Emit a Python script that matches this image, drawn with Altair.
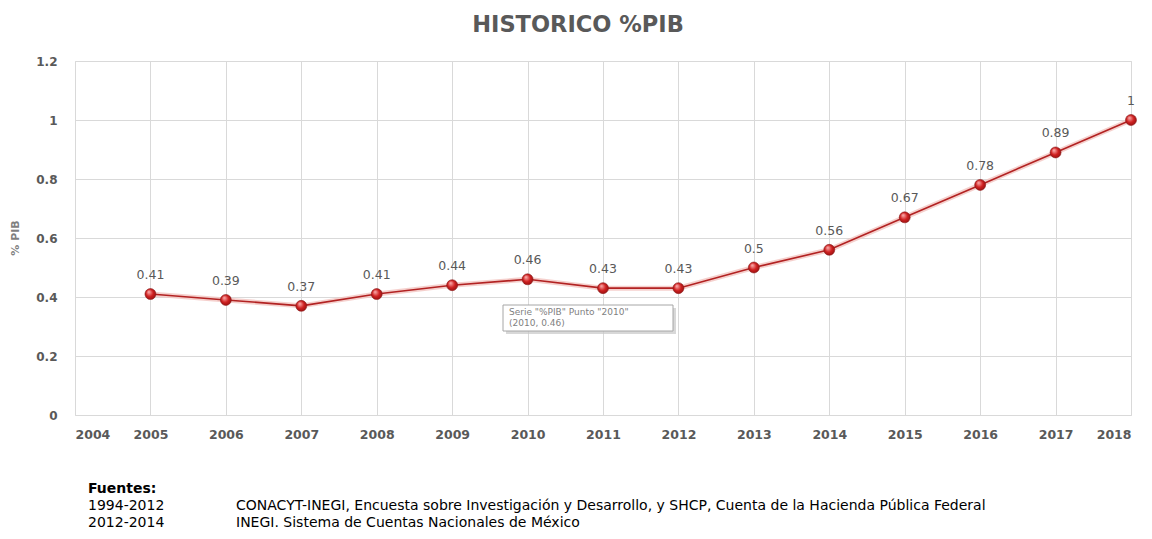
import altair as alt
import pandas as pd

years = [2005, 2006, 2007, 2008, 2009, 2010, 2011, 2012, 2013, 2014, 2015, 2016, 2017, 2018]
pib = [0.41, 0.39, 0.37, 0.41, 0.44, 0.46, 0.43, 0.43, 0.50, 0.56, 0.67, 0.78, 0.89, 1.00]
x_ticks = list(range(2004, 2019))
y_ticks = [0, 0.2, 0.4, 0.6, 0.8, 1.0, 1.2]

title_text = "HISTORICO %PIB"
y_title = "% PIB"
tooltip_lines = ['Serie "%PIB" Punto "2010"', "(2010, 0.46)"]
src_head = "Fuentes:"
src_periods = ["1994-2012", "2012-2014"]
src_texts = [
    "CONACYT-INEGI, Encuesta sobre Investigación y Desarrollo, y SHCP, Cuenta de la Hacienda Pública Federal",
    "INEGI. Sistema de Cuentas Nacionales de México",
]

df = pd.DataFrame({"year": years, "pib": pib})
one = pd.DataFrame({"a": [0]})

W, H = 1056, 354
GRID = "#d9d9d9"
TXT = "#595959"

xs = alt.X("year:Q", scale=alt.Scale(domain=[2004, 2018], nice=False, zero=False),
           axis=alt.Axis(values=x_ticks, format="d", title=None, ticks=False, domain=False,
                         grid=True, gridColor=GRID, labelFont="DejaVu Sans", labelFontSize=12.5,
                         labelFontWeight="bold", labelColor=TXT, labelPadding=13))
ys = alt.Y("pib:Q", scale=alt.Scale(domain=[0, 1.2], nice=False),
           axis=alt.Axis(values=y_ticks, format="~g", title=None, ticks=False, domain=False,
                         grid=True, gridColor=GRID, labelFont="DejaVu Sans", labelFontSize=12,
                         labelFontWeight="bold", labelColor=TXT, labelPadding=18))

base = alt.Chart(df)
glow = base.mark_line(color="#f2c4c0", strokeWidth=5, opacity=0.8).encode(x=xs, y=ys)
line = base.mark_line(color="#b22222", strokeWidth=1.6).encode(x=xs, y=ys)
pts = base.mark_point(
    filled=True, size=120, shape="circle", opacity=1,
    fill=alt.RadialGradient(gradient="radial", x1=0.35, y1=0.3, r1=0.05, x2=0.5, y2=0.5, r2=0.6,
                            stops=[alt.GradientStop(offset=0, color="#f7a3a3"),
                                   alt.GradientStop(offset=0.5, color="#d02020"),
                                   alt.GradientStop(offset=1, color="#8b0f0f")]),
    stroke="#8b1a1a", strokeWidth=0.6,
).encode(x=xs, y=ys)
labels = base.mark_text(font="DejaVu Sans", fontSize=12.5, color=TXT, dy=-15, baseline="alphabetic").encode(
    x=xs, y=ys, text=alt.Text("pib:Q", format="~g"))

ann = alt.Chart(one)
title = ann.mark_text(font="DejaVu Sans", fontSize=22.5, fontWeight="bold", color=TXT,
                      align="center", baseline="alphabetic").encode(
    x=alt.value(503), y=alt.value(-29), text=alt.value(title_text))
ytitle = ann.mark_text(font="DejaVu Sans", fontSize=11, fontWeight="bold", color="#7f7f7f",
                       align="center", baseline="middle", angle=270).encode(
    x=alt.value(-59), y=alt.value(177), text=alt.value(y_title))

shadow = ann.mark_rect(color="#c8c8c8", opacity=0.7).encode(
    x=alt.value(431), x2=alt.value(601), y=alt.value(247), y2=alt.value(273))
box = ann.mark_rect(fill="white", stroke="#a6a6a6", strokeWidth=1).encode(
    x=alt.value(428), x2=alt.value(598), y=alt.value(244), y2=alt.value(270))
tip1 = ann.mark_text(font="DejaVu Sans", fontSize=9, color="#7f7f7f", align="left", baseline="middle").encode(
    x=alt.value(434), y=alt.value(251), text=alt.value(tooltip_lines[0]))
tip2 = ann.mark_text(font="DejaVu Sans", fontSize=9, color="#7f7f7f", align="left", baseline="middle").encode(
    x=alt.value(434), y=alt.value(262), text=alt.value(tooltip_lines[1]))

src_font = "DejaVu Sans"
FS = 14
s0 = ann.mark_text(font=src_font, fontSize=FS, fontWeight="bold", color="black", align="left",
                   baseline="alphabetic").encode(x=alt.value(13), y=alt.value(432), text=alt.value(src_head))
s1 = ann.mark_text(font=src_font, fontSize=FS, color="black", align="left", baseline="alphabetic").encode(
    x=alt.value(13), y=alt.value(449), text=alt.value(src_periods[0]))
s2 = ann.mark_text(font=src_font, fontSize=FS, color="black", align="left", baseline="alphabetic").encode(
    x=alt.value(13), y=alt.value(466), text=alt.value(src_periods[1]))
s3 = ann.mark_text(font=src_font, fontSize=FS, color="black", align="left", baseline="alphabetic").encode(
    x=alt.value(161), y=alt.value(449), text=alt.value(src_texts[0]))
s4 = ann.mark_text(font=src_font, fontSize=FS, color="black", align="left", baseline="alphabetic").encode(
    x=alt.value(161), y=alt.value(466), text=alt.value(src_texts[1]))

chart = alt.layer(glow, line, pts, labels, title, ytitle, shadow, box, tip1, tip2, s0, s1, s2, s3, s4).properties(
    width=W, height=H,
    autosize=alt.AutoSizeParams(type="none"),
    padding={"left": 67, "top": 53, "right": 13, "bottom": 116},
).configure_view(stroke=None).configure(background="white")

chart.save("out.html", embed_options={"renderer": "svg", "actions": False})
